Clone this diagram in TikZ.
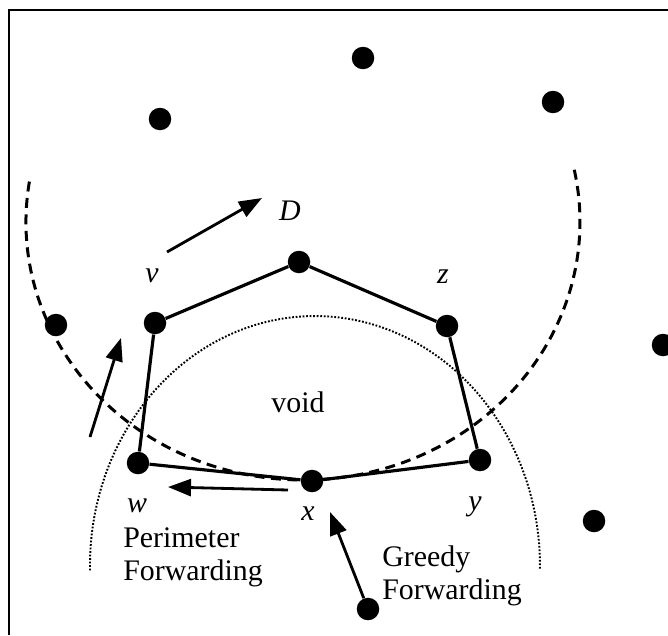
\documentclass[tikz,border=0pt]{standalone}
\usepackage{fontspec}
\setmainfont{Liberation Serif}
\usetikzlibrary{arrows.meta}

\begin{document}
\begin{tikzpicture}[x=0.02cm, y=0.02cm, font=\fontsize{17}{19}\selectfont,
dot/.style={circle, fill=black, inner sep=0pt, minimum size=0.45cm},
lbl/.style={inner sep=0pt, anchor=base, font=\fontsize{17}{19}\selectfont\itshape},
txt/.style={inner sep=0pt, align=left, anchor=north west},
edge/.style={line width=1.8pt},
arrow/.style={-{Triangle[length=0.46cm, width=0.34cm]}, line width=1.6pt},
reachline/.style={dash pattern=on 0.2cm off 0.13cm, line width=1.7pt},
voidline/.style={dash pattern=on 1pt off 1pt, line width=1.1pt}]
\useasboundingbox (0,0) rectangle (668,-635);
% frame
\draw[line width=1.2pt] (9,-635) -- (9,-10) -- (668,-10);
% radio range and void boundary
\draw[reachline] (29.4,-181.6) arc[start angle=171, end angle=372.3, x radius=277, y radius=258];
\draw[voidline] (90,-570.4) arc[start angle=181, end angle=-1, x radius=225, y radius=250];
% nodes
\node[dot] (t1) at (363,-58) {};
\node[dot] (t2) at (160,-119) {};
\node[dot] (t3) at (553,-102) {};
\node[dot] (lf) at (56,-325) {};
\node[dot] (v) at (155,-323) {};
\node[dot] (u) at (299,-262) {};
\node[dot] (z) at (447,-326) {};
\node[dot] (rt) at (663,-345) {};
\node[dot] (w) at (138,-463) {};
\node[dot] (x) at (312,-481) {};
\node[dot] (y) at (480,-460) {};
\node[dot] (yr) at (594,-521) {};
\node[dot] (s) at (368,-609) {};
% perimeter around the void
\draw[edge] (v) -- (u) -- (z) -- (y) -- (x) -- (w) -- (v);
% labels
\node[lbl] (lv) at (152,-282) {v};
\node[lbl] (lD) at (290,-220) {D};
\node[lbl] (lz) at (443,-283) {z};
\node[lbl] (lw) at (137,-512) {w};
\node[lbl] (lx) at (308,-520) {x};
\node[lbl] (ly) at (475,-510) {y};
\node[inner sep=0pt, anchor=base] (void) at (298,-412) {void};
\node[txt] (per) at (123,-527) {Perimeter\\Forwarding};
\node[txt] (gre) at (382,-545) {Greedy\\Forwarding};
% arrows
\coordinate (d0) at (167,-252);
\coordinate (d1) at (262,-198);
\coordinate (l0) at (90,-437);
\coordinate (l1) at (121,-338);
\coordinate (p0) at (288,-490);
\coordinate (p1) at (168,-487);
\coordinate (g1) at (330,-512);
\draw[arrow] (d0) -- (d1);
\draw[arrow] (l0) -- (l1);
\draw[arrow] (p0) -- (p1);
\draw[arrow] (s) -- (g1);
\end{tikzpicture}
\end{document}
